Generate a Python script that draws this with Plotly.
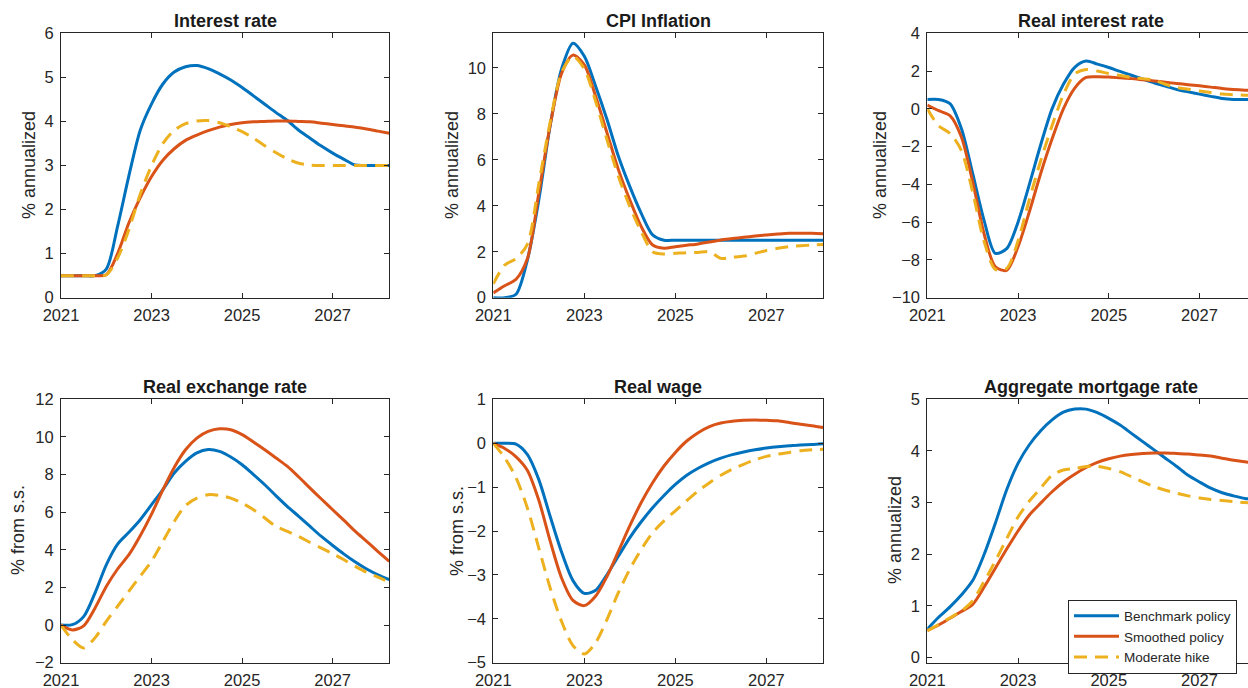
import plotly.graph_objects as go

# ---------------- data (quarterly) ----------------
quarters = [2021.00, 2021.25, 2021.50, 2021.75, 2022.00, 2022.25, 2022.50, 2022.75,
            2023.00, 2023.25, 2023.50, 2023.75, 2024.00, 2024.25, 2024.50, 2024.75,
            2025.00, 2025.25, 2025.50, 2025.75, 2026.00, 2026.25, 2026.50, 2026.75,
            2027.00, 2027.25, 2027.50, 2027.75, 2028.00, 2028.25]

series_names = ["Benchmark policy", "Smoothed policy", "Moderate hike"]

panel_titles = ["Interest rate", "CPI Inflation", "Real interest rate",
                "Real exchange rate", "Real wage", "Aggregate mortgage rate"]
panel_ylabels = ["% annualized", "% annualized", "% annualized",
                 "% from s.s.", "% from s.s.", "% annualized"]

x_tick_vals = [2021, 2023, 2025, 2027]
x_tick_text = ["2021", "2023", "2025", "2027"]

# Interest rate
ir_bench = [0.5, 0.5, 0.5, 0.5, 0.65, 1.62, 2.77, 3.8, 4.4, 4.85, 5.12, 5.24, 5.27, 5.2, 5.08, 4.94,
            4.77, 4.58, 4.39, 4.2, 4.02, 3.8, 3.62, 3.44, 3.28, 3.14, 3.01, 3.0, 3.0, 3.0]
ir_smooth = [0.5, 0.5, 0.5, 0.5, 0.52, 1.0, 1.7, 2.27, 2.75, 3.12, 3.38, 3.57, 3.69, 3.79, 3.87, 3.93,
             3.97, 3.99, 4.0, 4.01, 4.01, 4.0, 3.99, 3.96, 3.93, 3.9, 3.87, 3.83, 3.78, 3.73]
ir_moderate = [0.5, 0.5, 0.5, 0.5, 0.52, 0.9, 1.55, 2.35, 3.0, 3.5, 3.8, 3.95, 4.01, 4.02, 3.97, 3.88,
               3.77, 3.62, 3.45, 3.29, 3.15, 3.05, 3.01, 3.0, 3.0, 3.0, 3.0, 3.0, 3.0, 3.0]

# CPI inflation
cpi_bench = [0.0, 0.0, 0.15, 1.65, 4.25, 7.5, 9.95, 11.07, 10.5, 9.19, 7.74, 6.14, 4.83, 3.67, 2.73, 2.5,
             2.5, 2.5, 2.5, 2.5, 2.5, 2.5, 2.5, 2.5, 2.5, 2.5, 2.5, 2.5, 2.5, 2.5]
cpi_smooth = [0.21, 0.52, 0.8, 1.7, 4.55, 7.5, 9.75, 10.55, 10.13, 8.75, 7.16, 5.56, 4.25, 3.09, 2.29, 2.15,
              2.22, 2.28, 2.34, 2.42, 2.51, 2.57, 2.63, 2.68, 2.73, 2.77, 2.8, 2.8, 2.8, 2.78]
cpi_moderate = [0.6, 1.42, 1.7, 2.33, 4.95, 7.65, 9.8, 10.5, 9.95, 8.53, 6.86, 5.27, 3.96, 2.87, 2.0, 1.9,
                1.93, 1.96, 1.97, 2.0, 1.71, 1.76, 1.81, 1.93, 2.05, 2.15, 2.22, 2.26, 2.29, 2.31]

# Real interest rate
rr_bench = [0.5, 0.5, 0.28, -1.03, -3.42, -5.89, -7.65, -7.4, -6.0, -4.0, -1.9, 0.0, 1.3, 2.2, 2.53, 2.37,
            2.19, 1.98, 1.78, 1.58, 1.38, 1.2, 1.02, 0.9, 0.78, 0.66, 0.55, 0.5, 0.5, 0.5]
rr_smooth = [0.2, -0.1, -0.36, -1.48, -3.86, -6.6, -8.36, -8.55, -7.3, -5.45, -3.42, -1.6, 0.0, 1.1, 1.66, 1.7,
             1.68, 1.64, 1.6, 1.54, 1.48, 1.41, 1.34, 1.28, 1.22, 1.15, 1.08, 1.03, 0.99, 0.96]
rr_moderate = [0.0, -0.9, -1.3, -2.2, -4.4, -7.0, -8.5, -8.45, -7.0, -4.8, -2.75, -0.9, 0.75, 1.85, 2.08, 2.0,
               1.87, 1.77, 1.66, 1.6, 1.52, 1.3, 1.13, 1.04, 0.95, 0.86, 0.78, 0.75, 0.72, 0.7]

# Real exchange rate
rer_bench = [0.0, 0.02, 0.45, 1.7, 3.2, 4.3, 4.93, 5.6, 6.4, 7.2, 8.08, 8.7, 9.15, 9.33, 9.23, 8.93,
             8.52, 8.0, 7.46, 6.87, 6.3, 5.78, 5.24, 4.71, 4.23, 3.77, 3.35, 2.98, 2.67, 2.41]
rer_smooth = [0.0, -0.26, -0.04, 0.9, 2.05, 2.98, 3.74, 4.75, 5.9, 7.19, 8.38, 9.32, 9.94, 10.29, 10.43, 10.38,
              10.12, 9.73, 9.32, 8.88, 8.43, 7.87, 7.28, 6.7, 6.13, 5.56, 4.98, 4.45, 3.91, 3.38]
rer_moderate = [0.0, -0.77, -1.22, -0.68, 0.2, 1.0, 1.8, 2.6, 3.4, 4.45, 5.5, 6.35, 6.75, 6.93, 6.89, 6.75,
                6.48, 6.13, 5.69, 5.24, 4.98, 4.71, 4.39, 4.09, 3.79, 3.47, 3.12, 2.8, 2.55, 2.27]

# Real wage
rw_bench = [0.0, 0.0, -0.02, -0.26, -0.83, -1.67, -2.48, -3.13, -3.42, -3.35, -2.99, -2.57, -2.15, -1.79, -1.47, -1.19,
            -0.94, -0.73, -0.57, -0.44, -0.34, -0.26, -0.2, -0.15, -0.11, -0.08, -0.06, -0.04, -0.03, -0.01]
rw_smooth = [0.0, -0.12, -0.31, -0.62, -1.3, -2.23, -3.07, -3.58, -3.7, -3.48, -3.03, -2.46, -1.88, -1.35, -0.9, -0.52,
             -0.21, 0.05, 0.24, 0.38, 0.46, 0.5, 0.52, 0.53, 0.52, 0.51, 0.47, 0.43, 0.4, 0.36]
rw_moderate = [0.0, -0.33, -0.79, -1.48, -2.39, -3.3, -4.06, -4.61, -4.8, -4.54, -4.01, -3.4, -2.87, -2.42, -2.04, -1.77,
               -1.54, -1.31, -1.09, -0.9, -0.73, -0.59, -0.48, -0.38, -0.3, -0.25, -0.21, -0.17, -0.15, -0.14]

# Aggregate mortgage rate
mr_bench = [0.55, 0.78, 0.98, 1.21, 1.49, 1.99, 2.6, 3.25, 3.76, 4.12, 4.39, 4.6, 4.75, 4.81, 4.81, 4.74,
            4.63, 4.5, 4.34, 4.18, 4.02, 3.86, 3.7, 3.53, 3.4, 3.28, 3.19, 3.13, 3.08, 3.06]
mr_smooth = [0.52, 0.63, 0.76, 0.89, 1.03, 1.36, 1.73, 2.1, 2.45, 2.76, 2.99, 3.21, 3.4, 3.55, 3.68, 3.78,
             3.85, 3.9, 3.93, 3.95, 3.96, 3.96, 3.95, 3.94, 3.92, 3.9, 3.86, 3.82, 3.79, 3.75]
mr_moderate = [0.52, 0.64, 0.77, 0.9, 1.1, 1.47, 1.87, 2.3, 2.72, 3.03, 3.28, 3.53, 3.63, 3.66, 3.7, 3.7,
               3.66, 3.6, 3.5, 3.4, 3.31, 3.24, 3.18, 3.13, 3.09, 3.06, 3.04, 3.02, 3.0, 2.99]

panel_series = [
    (ir_bench, ir_smooth, ir_moderate),
    (cpi_bench, cpi_smooth, cpi_moderate),
    (rr_bench, rr_smooth, rr_moderate),
    (rer_bench, rer_smooth, rer_moderate),
    (rw_bench, rw_smooth, rw_moderate),
    (mr_bench, mr_smooth, mr_moderate),
]

# ---------------- layout / styling ----------------
W, H = 1248, 688
FONT = "Liberation Sans, Arial, Helvetica, sans-serif"
AX = "#262626"
colors = ["#0072BD", "#D95319", "#EDB120"]
dashes = ["solid", "solid", "13px,8px"]

# pixel boxes of each axes: (left, right, top, bottom)
boxes = [
    (61.0, 389.3, 33.3, 297.7),
    (493.3, 823.3, 33.3, 297.7),
    (927.3, 1248.0, 33.3, 297.7),
    (61.0, 389.3, 399.3, 662.7),
    (493.3, 823.3, 399.3, 662.7),
    (927.3, 1248.0, 399.3, 662.7),
]
y_ranges = [[0, 6], [0, 11.5], [-10, 4], [-2, 12], [-5, 1], [-0.1, 5]]
y_dticks = [1, 2, 2, 2, 1, 1]
x_ranges = [[2021, 2028.25], [2021, 2028.25], [2021, 2028.07],
            [2021, 2028.25], [2021, 2028.25], [2021, 2028.07]]
clipped = [False, False, True, False, False, True]
ylabel_pos = [(29, 165), (452, 165), (880, 165), (18, 530), (457, 531), (895, 530)]
title_y = [20.5, 20.5, 20.5, 386.5, 386.5, 386.5]

fig = go.Figure()
layout = dict(
    template="none",
    width=W, height=H,
    margin=dict(l=0, r=0, t=0, b=0, pad=0, autoexpand=False),
    paper_bgcolor="white", plot_bgcolor="white",
    font=dict(family=FONT, color=AX, size=16),
    showlegend=True,
    legend=dict(x=1068 / W, y=1 - 599.5 / H, xanchor="left", yanchor="top",
                bgcolor="white", bordercolor=AX, borderwidth=1,
                font=dict(family=FONT, size=13.5, color=AX),
                itemwidth=45, tracegroupgap=0),
)
annotations = []

for i, (box, ser) in enumerate(zip(boxes, panel_series)):
    n = i + 1
    xa = "x" if n == 1 else f"x{n}"
    ya = "y" if n == 1 else f"y{n}"
    l, r, t, b = box
    for j, vals in enumerate(ser):
        fig.add_trace(go.Scatter(
            x=quarters, y=vals, mode="lines", xaxis=xa, yaxis=ya,
            name=series_names[j], showlegend=(n == 6), hoverinfo="skip",
            line=dict(color=colors[j], width=3, dash=dashes[j],
                      shape="spline", smoothing=0.8),
        ))
    xkey = "xaxis" if n == 1 else f"xaxis{n}"
    ykey = "yaxis" if n == 1 else f"yaxis{n}"
    layout[xkey] = dict(
        domain=[l / W, min(r / W, 1.0)], anchor=ya, range=x_ranges[i],
        tickvals=x_tick_vals, ticktext=x_tick_text, automargin=False,
        showline=True, linecolor=AX, linewidth=1, mirror="ticks",
        ticks="inside", ticklen=5, tickcolor=AX, showgrid=False, zeroline=False,
        ticklabelstandoff=2,
        tickfont=dict(family=FONT, size=16.5, color=AX),
    )
    layout[ykey] = dict(
        domain=[1 - b / H, 1 - t / H], anchor=xa, range=y_ranges[i], dtick=y_dticks[i],
        automargin=False,
        showline=True, linecolor=AX, linewidth=1,
        mirror=(False if clipped[i] else "ticks"),
        ticks="inside", ticklen=5, tickcolor=AX, showgrid=False, zeroline=False,
        ticklabelstandoff=3,
        tickfont=dict(family=FONT, size=16.5, color=AX),
    )
    cx = (l + (l + 328.3 if clipped[i] else r)) / 2
    annotations.append(dict(
        text="<b>" + panel_titles[i] + "</b>", xref="paper", yref="paper",
        x=cx / W, y=1 - title_y[i] / H, xanchor="center", yanchor="middle",
        showarrow=False, font=dict(family=FONT, size=18, color="#1a1a1a"),
    ))
    lx, ly = ylabel_pos[i]
    annotations.append(dict(
        text=panel_ylabels[i], xref="paper", yref="paper",
        x=lx / W, y=1 - ly / H, xanchor="center", yanchor="middle", textangle=-90,
        showarrow=False, font=dict(family=FONT, size=18, color=AX),
    ))

layout["annotations"] = annotations
fig.update_layout(**layout)
fig.write_html("out.html",
               config={"displayModeBar": False},
               post_script="document.body.style.margin='0';document.body.style.overflow='hidden';")
